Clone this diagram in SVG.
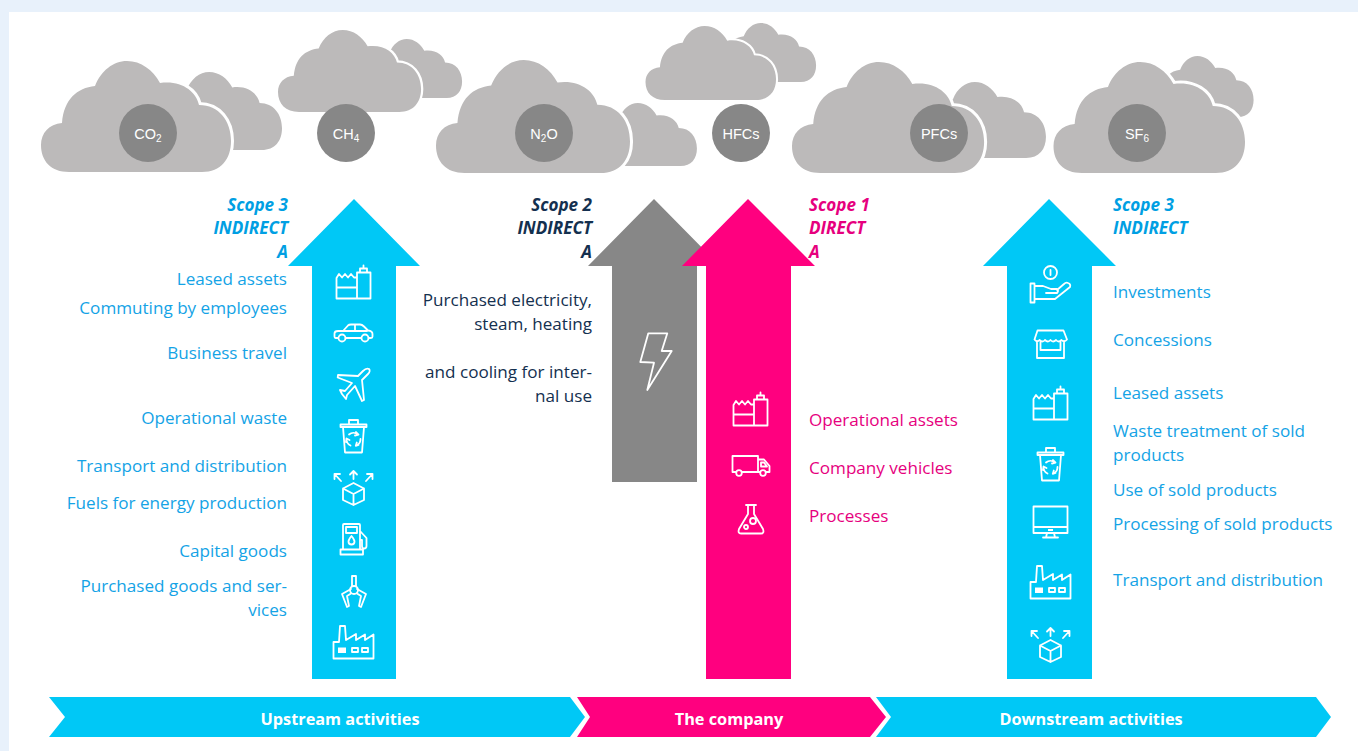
<svg xmlns="http://www.w3.org/2000/svg" width="1358" height="751" viewBox="0 0 1358 751">
<style>
.cloud{fill:#bcbaba}
.front{stroke:#fff;stroke-width:6;paint-order:stroke;vector-effect:non-scaling-stroke}
.disc{fill:#878787}
.gas{font:14.5px "Liberation Sans",Arial,sans-serif;fill:#fff;text-anchor:middle}
.sub{font-size:10px}
.t{font:17.1px "Open Sans","Noto Sans",sans-serif}
.h{font:italic 700 17.1px "Open Sans","Noto Sans",sans-serif}
.r{text-anchor:end}
.blue{fill:#14a3e6}.hb{fill:#009fe3}.navy{fill:#14304f}.pink{fill:#e6007e}
.bar{font:700 16.3px "Open Sans","Noto Sans",sans-serif;fill:#fff;text-anchor:middle}
.ic{fill:none;stroke:#fff;stroke-width:1.8;stroke-linejoin:round;stroke-linecap:round}
.w{fill:#fff;stroke:none}
</style>
<defs>
<path id="cl" d="M28 111C10 111 0 100 0 84C0 72 8 63 21 62C23 38 36 27 54 25C60 10 72 0 86 0C100 0 112 9 119 22C140 19 155 30 158 44C178 44 190 60 190 80C190 98 180 111 161 111Z"/>
<g id="i-build" class="ic"><path d="M21 7.500H34.500V33.500H21ZM24 7.500V3.500H31V7.500M27.500 3.500V0.500M0.500 33.500V13L3 9L6 12.500L9 9L12 12.500L15 9L18 12.500H21M0.500 22.500H21M0.500 33.500H21"/></g>
<g id="i-bin" class="ic"><path d="M0.500 5.500H26.500V8H0.500ZM9 5.500V1H18V5.500M3 8L5 33.500H22L24 8M9 15.500A7 7 0 0 1 18 15.500M20.500 20A7 7 0 0 1 16.500 26.500M10.500 26.500A7 7 0 0 1 6.500 20M16 13L18.500 15.700L15 16.500M18.500 26L15.800 26.800L16.800 23.500M6 23L6.500 19.500L9.500 21"/></g>
<g id="i-box" class="ic"><path d="M20.500 13L31 18.500V30L20.500 35L10 30V18.500ZM10 18.500L20.500 24L31 18.500M20.500 24V35M20.500 9V1M17 4.500L20.500 1L24 4.500M8 11L1.500 4M1.500 9V4H7M33 11L39.500 4M39.500 9V4H34"/></g>
<g id="i-fact" class="ic"><path d="M0.500 33.500V17H6L7 1H12L13 15L23 9V15L32 9.500V15L40.500 9.500V33.500ZM19 23H25V27H19ZM29 23H35V27H29Z"/><path class="w" d="M5 22.500H13V28H5Z"/></g>
</defs>
<rect width="1358" height="751" fill="#e8f1fb"/>
<rect x="9" y="12" width="1349" height="739" fill="#fff"/>

<g id="cloud-co2">
<use href="#cl" class="cloud" transform="translate(149 72) scale(.7 .703)"/>
<use href="#cl" class="cloud front" transform="translate(41 61)"/>
<circle class="disc" cx="148" cy="133" r="29"/>
<text class="gas" x="148" y="138.500">CO<tspan class="sub" dy="3">2</tspan></text>
</g>
<g id="cloud-ch4">
<use href="#cl" class="cloud" transform="translate(361 39) scale(.532 .532)"/>
<use href="#cl" class="cloud front" transform="translate(278 30) scale(.753 .739)"/>
<circle class="disc" cx="346" cy="133" r="29"/>
<text class="gas" x="346" y="138.500">CH<tspan class="sub" dy="3">4</tspan></text>
</g>
<g id="cloud-n2o">
<use href="#cl" class="cloud" transform="translate(589 103) scale(.568 .568)"/>
<use href="#cl" class="cloud front" transform="translate(436 60) scale(1.021 1.018)"/>
<circle class="disc" cx="544" cy="133" r="29"/>
<text class="gas" x="544" y="138.500">N<tspan class="sub" dy="3">2</tspan><tspan dy="-3">O</tspan></text>
</g>
<g id="cloud-hfcs">
<use href="#cl" class="cloud" transform="translate(715 23) scale(.532 .532)"/>
<use href="#cl" class="cloud front" transform="translate(645.500 26) scale(.687 .667)"/>
<circle class="disc" cx="741" cy="133" r="29"/>
<text class="gas" x="741" y="138.500">HFCs</text>
</g>
<g id="cloud-pfcs">
<use href="#cl" class="cloud" transform="translate(916 82) scale(.684 .685)"/>
<use href="#cl" class="cloud front" transform="translate(792 62) scale(1.011 1)"/>
<circle class="disc" cx="939" cy="133" r="29"/>
<text class="gas" x="939" y="138.500">PFCs</text>
</g>
<g id="cloud-sf6">
<use href="#cl" class="cloud" transform="translate(1151 56) scale(.54 .55)"/>
<use href="#cl" class="cloud front" transform="translate(1053.500 62) scale(1.008 1)"/>
<circle class="disc" cx="1137" cy="133" r="29"/>
<text class="gas" x="1137" y="138.500">SF<tspan class="sub" dy="3">6</tspan></text>
</g>

<g id="connectors">
<polygon id="arrow-upstream" fill="#00c8f6" points="354,199 420,266 396,266 396,679 312,679 312,266 288,266"/>
<polygon id="arrow-scope2" fill="#878787" points="654,199 720,266 697,266 697,482 612,482 612,266 588,266"/>
<polygon id="arrow-scope1" fill="#ff007f" points="748,199 815,266 791,266 791,679 706,679 706,266 682,266"/>
<polygon id="arrow-downstream" fill="#00c8f6" points="1049,199 1116,266 1092,266 1092,679 1007,679 1007,266 983,266"/>
</g>

<g id="scope3-upstream">
<text class="h hb r" x="288" y="210.500">Scope 3</text>
<text class="h hb r" x="288" y="234">INDIRECT</text>
<text class="h hb r" x="288" y="258">A</text>
<g class="t blue r">
<text x="287" y="285">Leased assets</text>
<text x="287" y="314">Commuting by employees</text>
<text x="287" y="359">Business travel</text>
<text x="287" y="424">Operational waste</text>
<text x="287" y="472">Transport and distribution</text>
<text x="287" y="509">Fuels for energy production</text>
<text x="287" y="557">Capital goods</text>
<text x="287" y="592">Purchased goods and ser-</text>
<text x="287" y="616">vices</text>
</g>
<use href="#i-build" x="336" y="265"/>
<g class="ic" transform="translate(334 324)"><path d="M4 14H1.500Q0.500 14 0.500 12.500V9.500Q0.500 7 4 7H9L14 1.500Q15 0.500 17 0.500H26Q28 0.500 30 2.500L34 6.500Q38.500 7 38.500 10V12.500Q38.500 14 37 14H34.500M11.500 14H27M9.500 7H33M21 1V7"/><circle cx="8" cy="14" r="3.500"/><circle cx="31" cy="14" r="3.500"/></g>
<g class="ic" transform="translate(337 368)"><path d="M32 1C30 0 28 1 26 3L21 8L1 7L0.700 9.500L15 15L8 23L3 22L5 26L9 31L10 27L18 18L25 33L27 32L25 12L31 6C33 4 33 2 32 1Z"/></g>
<use href="#i-bin" x="340" y="419"/>
<use href="#i-box" x="333" y="470"/>
<g class="ic" transform="translate(340 523)"><path d="M3 26V2Q3 1 4 1H19Q20 1 20 2V26M0.500 26.500H23V31.500H0.500ZM6 4H17V10H6ZM11.500 13C9 16 8.500 17.500 8.500 18.500A3 3 0 0 0 14.500 18.500C14.500 17.500 14 16 11.500 13ZM20 8L26.500 15V23Q26.500 25.500 24 25.500Q22 25.500 22 23V17H20"/></g>
<g class="ic" transform="translate(341 575)"><path d="M11 11V1H15V11M10 14L1 19L6 32L8 31L6 21L10 18.500M16 14L25 19L20 32L18 31L20 21L16 18.500"/><circle cx="13" cy="15" r="4"/></g>
<use href="#i-fact" x="333" y="625"/>
</g>

<g id="scope2">
<text class="h navy r" x="592" y="210.500">Scope 2</text>
<text class="h navy r" x="592" y="234">INDIRECT</text>
<text class="h navy r" x="592" y="258">A</text>
<g class="t navy r">
<text x="592" y="306">Purchased electricity,</text>
<text x="592" y="330">steam, heating</text>
<text x="592" y="378">and cooling for inter-</text>
<text x="592" y="402">nal use</text>
</g>
<polygon class="ic" points="648.300,333.300 667.300,333.300 661.700,351 671.700,351 647.300,390 654,362.700 640.300,362"/>
</g>

<g id="scope1">
<text class="h pink" x="809" y="210.500">Scope 1</text>
<text class="h pink" x="809" y="234">DIRECT</text>
<text class="h pink" x="809" y="258">A</text>
<g class="t pink">
<text x="809" y="426">Operational assets</text>
<text x="809" y="474">Company vehicles</text>
<text x="809" y="522">Processes</text>
</g>
<use href="#i-build" x="733" y="392"/>
<g class="ic" transform="translate(732 455)"><path d="M4 17H0.500V1H26V17H10M26 4.500H32L37.500 11V17H34M28 17H26M29 7.500H32L35 11.500H29Z"/><circle cx="7" cy="18" r="2.800"/><circle cx="31" cy="18" r="2.800"/></g>
<g class="ic" transform="translate(738 504)"><path d="M8 1H18M10 1V10L1 25Q-0.500 29.500 3 29.500H23Q26.500 29.500 25 25L16 10V1"/><circle cx="15" cy="17" r="3"/><circle cx="8" cy="23" r="2"/></g>
</g>

<g id="scope3-downstream">
<text class="h hb" x="1113" y="210.500">Scope 3</text>
<text class="h hb" x="1113" y="234">INDIRECT</text>
<g class="t blue">
<text x="1113" y="298">Investments</text>
<text x="1113" y="346">Concessions</text>
<text x="1113" y="399">Leased assets</text>
<text x="1113" y="437">Waste treatment of sold</text>
<text x="1113" y="461">products</text>
<text x="1113" y="496">Use of sold products</text>
<text x="1113" y="530">Processing of sold products</text>
<text x="1113" y="586">Transport and distribution</text>
</g>
<g class="ic" transform="translate(1030 266)"><circle cx="20.500" cy="6.500" r="6.500"/><path d="M20.500 4V9M0.500 17.500H4.500V36.500H0.500ZM4.500 20H13L21 23H27Q29 25 27 27H16M4.500 33H25L40 21Q41 18 38 17Q36 16 34 18L27 24"/></g>
<g class="ic" transform="translate(1034 330)"><path d="M3.500 0.500H29.500L33 9.500Q30 13 27.500 10Q24.500 13 22 10Q19 13 16.500 10Q14 13 11 10Q8.500 13 5.500 10Q3 13 0.500 9.500ZM3 11V28H30V11M6.500 12V20H26.500V12"/></g>
<use href="#i-build" x="1033" y="386"/>
<use href="#i-bin" x="1037" y="447"/>
<g class="ic" transform="translate(1033 506)"><path d="M0.500 0.500H34.500V27H0.500ZM0.500 21H34.500M14 27L13 31.500M21 27L22 31.500M10 31.500H25"/><path class="w" d="M15 23H20V25H15Z"/></g>
<use href="#i-fact" x="1030" y="565"/>
<use href="#i-box" x="1030" y="627"/>
</g>

<g id="bar-upstream"><polygon fill="#00c8f6" points="49,697 570,697 585,717 570,737 49,737 65,717"/><text class="bar" x="340" y="724.500">Upstream activities</text></g>
<g id="bar-company"><polygon fill="#ff007f" points="577,697 870,697 886,717 870,737 577,737 590,717"/><text class="bar" x="729" y="724.500">The company</text></g>
<g id="bar-downstream"><polygon fill="#00c8f6" points="876,697 1316,697 1331,717 1316,737 876,737 891,717"/><text class="bar" x="1091" y="724.500">Downstream activities</text></g>
</svg>
